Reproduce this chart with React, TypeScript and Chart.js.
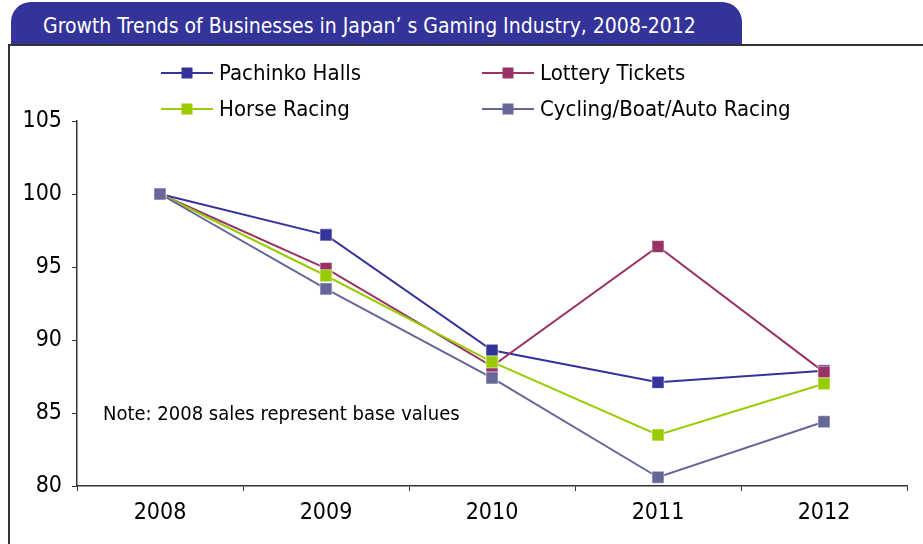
import React, { useEffect, useRef } from 'react';
import { Chart, registerables } from 'chart.js';

Chart.register(...registerables);

const years = ['2008', '2009', '2010', '2011', '2012'];
const pachinkoHalls = [100, 97.2, 89.3, 87.1, 87.9];
const lotteryTickets = [100, 94.9, 88.2, 96.4, 87.8];
const horseRacing = [100, 94.4, 88.5, 83.5, 87.0];
const cyclingBoatAuto = [100, 93.5, 87.4, 80.6, 84.4];
const seriesNames = ['Pachinko Halls', 'Lottery Tickets', 'Horse Racing', 'Cycling/Boat/Auto Racing'];
const seriesColors = ['#333399', '#993366', '#99CC00', '#666699'];
const yMin = 80;
const yMax = 105;
const yStep = 5;
const titleText = 'Growth Trends of Businesses in Japan\u2019 s Gaming Industry, 2008-2012';
const noteText = 'Note: 2008 sales represent base values';

const FONT = "'Liberation Sans Narrow', 'DejaVu Sans Condensed', 'Arial Narrow', sans-serif";

const legendPlugin = {
  id: 'customLegend',
  afterDraw(chart: any) {
    const ctx = chart.ctx;
    const area = chart.chartArea;
    ctx.save();
    // note text
    ctx.font = `20px ${FONT}`;
    ctx.fillStyle = '#000';
    ctx.textBaseline = 'middle';
    ctx.textAlign = 'left';
    ctx.fillText(noteText, area.left + 26, 415);
    // legend
    const colX = [161, 482];
    const rowY = [73, 109];
    chart.data.datasets.forEach((ds: any, i: number) => {
      const x0 = colX[i % 2];
      const y = rowY[Math.floor(i / 2)];
      ctx.strokeStyle = ds.borderColor;
      ctx.lineWidth = 2;
      ctx.beginPath();
      ctx.moveTo(x0, y);
      ctx.lineTo(x0 + 52, y);
      ctx.stroke();
      ctx.fillStyle = ds.borderColor;
      ctx.fillRect(x0 + 26 - 5.5, y - 5.5, 11, 11);
      ctx.fillStyle = '#000';
      ctx.font = `22px ${FONT}`;
      ctx.fillText(ds.label, x0 + 58, y + 1);
    });
    ctx.restore();
  },
};

export default function App() {
  const canvasRef = useRef<HTMLCanvasElement | null>(null);

  useEffect(() => {
    document.body.style.margin = '0';
    const canvas = canvasRef.current;
    if (!canvas) return;
    const seriesValues = [pachinkoHalls, lotteryTickets, horseRacing, cyclingBoatAuto];
    const chart = new Chart(canvas, {
      type: 'line',
      data: {
        labels: years,
        datasets: seriesValues.map((vals, i) => ({
          label: seriesNames[i],
          data: vals,
          borderColor: seriesColors[i],
          backgroundColor: seriesColors[i],
          borderWidth: 2,
          pointStyle: 'rect',
          pointRadius: 8.5,
          pointHoverRadius: 8.5,
          pointBorderWidth: 1,
          pointBorderColor: 'rgba(255,255,255,0.55)',
          pointBackgroundColor: seriesColors[i],
          tension: 0,
          order: 4 - i,
        })),
      },
      options: {
        animation: false,
        responsive: false,
        maintainAspectRatio: false,
        layout: { padding: { left: 0, right: 16, top: 121, bottom: 0 } },
        plugins: {
          legend: { display: false },
          title: { display: false },
          tooltip: { enabled: false },
        },
        scales: {
          x: {
            type: 'category',
            offset: true,
            grid: {
              display: true,
              drawOnChartArea: false,
              drawTicks: true,
              tickLength: 5,
              color: '#333',
              offset: true,
            },
            border: { display: true, color: '#333', width: 1.5 },
            ticks: {
              color: '#000',
              font: { family: FONT, size: 23 },
              padding: 8,
              maxRotation: 0,
            },
            afterFit(scale: any) {
              scale.height = 58;
            },
          },
          y: {
            min: yMin,
            max: yMax,
            grid: {
              display: true,
              drawOnChartArea: false,
              drawTicks: true,
              tickLength: 5,
              color: '#333',
            },
            border: { display: true, color: '#333', width: 1.5 },
            ticks: {
              stepSize: yStep,
              color: '#000',
              font: { family: FONT, size: 23 },
              padding: 10,
            },
            afterFit(scale: any) {
              scale.width = 77;
            },
          },
        },
      },
      plugins: [legendPlugin],
    });
    return () => chart.destroy();
  }, []);

  return (
    <div style={{ position: 'fixed', left: 0, top: 0, width: 923, height: 544, background: '#fff', overflow: 'hidden' }}>
      <div
        style={{
          position: 'absolute',
          left: 11,
          top: 2,
          width: 731,
          height: 43,
          background: '#333399',
          borderRadius: '20px 20px 0 0',
        }}
      />
      <div
        style={{
          position: 'absolute',
          left: 43,
          top: 11,
          color: '#fff',
          fontFamily: FONT,
          fontSize: 21,
          lineHeight: '30px',
          whiteSpace: 'nowrap',
        }}
      >
        {titleText}
      </div>
      <div
        style={{
          position: 'absolute',
          left: 8,
          top: 44,
          width: 940,
          height: 520,
          border: '2px solid #333',
          boxSizing: 'border-box',
        }}
      />
      <canvas ref={canvasRef} width={923} height={544} style={{ position: 'absolute', left: 0, top: 0, width: 923, height: 544 }} />
    </div>
  );
}
